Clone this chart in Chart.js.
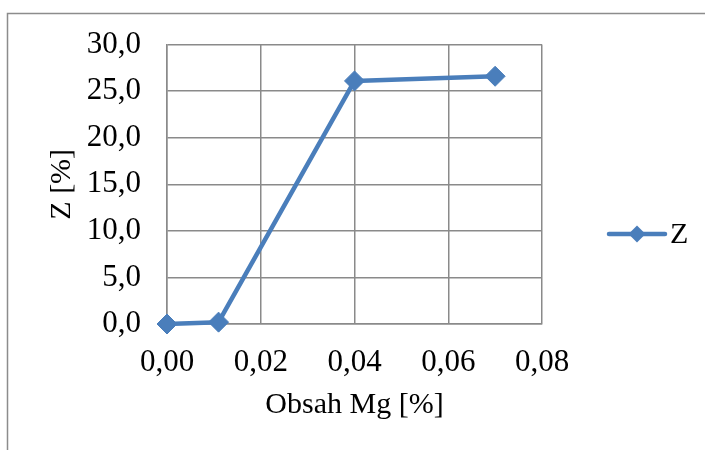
<!DOCTYPE html>
<html>
<head>
<meta charset="utf-8">
<script src="https://cdn.jsdelivr.net/npm/chart.js@4/dist/chart.umd.min.js"></script>
<style>
  html, body { margin: 0; padding: 0; background: #fff; }
  #wrap { width: 705px; height: 450px; position: relative; }
</style>
</head>
<body>
<div id="wrap"><canvas id="c" width="705" height="450"></canvas></div>
<script>
// Magnesium content [%] vs. Z [%]
const mgContent = [0, 0.011, 0.04, 0.07];
const zValues = [0, 0.2, 26.1, 26.6];
const seriesName = 'Z';

const xTickValues = [0, 0.02, 0.04, 0.06, 0.08];
const xTickLabels = ['0,00', '0,02', '0,04', '0,06', '0,08'];
const yTickValues = [0, 5, 10, 15, 20, 25, 30];
const yTickLabels = ['0,0', '5,0', '10,0', '15,0', '20,0', '25,0', '30,0'];

const xTitle = 'Obsah Mg [%]';
const yTitle = 'Z [%]';

const SERIF = "'Liberation Serif', 'Times New Roman', serif";
const LINE_BLUE = '#4a7ebb';
const GRID = '#8a8a8a';

// white page with the outer frame lines
const framePlugin = {
  id: 'frame',
  beforeDraw(chart) {
    const ctx = chart.ctx;
    ctx.save();
    ctx.fillStyle = '#fff';
    ctx.fillRect(0, 0, chart.width, chart.height);
    ctx.strokeStyle = '#8c8c8c';
    ctx.lineWidth = 1.5;
    ctx.beginPath();
    ctx.moveTo(7.5, chart.height);
    ctx.lineTo(7.5, 13.5);
    ctx.lineTo(chart.width, 13.5);
    ctx.stroke();
    ctx.restore();
  }
};

// legend entry: line sample with a diamond marker and the series name
const legendPlugin = {
  id: 'lineLegend',
  afterDraw(chart) {
    const ctx = chart.ctx;
    const ds = chart.data.datasets[0];
    const x0 = chart.chartArea.right + 67;
    const y = 234;
    ctx.save();
    ctx.strokeStyle = ds.borderColor;
    ctx.lineWidth = 4.5;
    ctx.lineCap = 'round';
    ctx.beginPath();
    ctx.moveTo(x0, y);
    ctx.lineTo(x0 + 56, y);
    ctx.stroke();
    const r = 8.5;
    ctx.fillStyle = ds.borderColor;
    ctx.beginPath();
    ctx.moveTo(x0 + 28, y - r);
    ctx.lineTo(x0 + 28 + r, y);
    ctx.lineTo(x0 + 28, y + r);
    ctx.lineTo(x0 + 28 - r, y);
    ctx.closePath();
    ctx.fill();
    ctx.fillStyle = '#000';
    ctx.font = '30px ' + SERIF;
    ctx.textBaseline = 'middle';
    ctx.textAlign = 'left';
    ctx.fillText(ds.label, x0 + 61, y + 1);
    ctx.restore();
  }
};

new Chart(document.getElementById('c'), {
  type: 'line',
  data: {
    datasets: [{
      label: seriesName,
      data: mgContent.map((x, i) => ({ x: x, y: zValues[i] })),
      borderColor: LINE_BLUE,
      backgroundColor: LINE_BLUE,
      borderWidth: 4.5,
      borderJoinStyle: 'round',
      tension: 0,
      pointStyle: 'rectRot',
      pointRadius: 10,
      pointHoverRadius: 10,
      pointBorderWidth: 1,
      pointBorderColor: LINE_BLUE,
      pointBackgroundColor: LINE_BLUE,
      clip: false
    }]
  },
  options: {
    responsive: false,
    animation: false,
    devicePixelRatio: 1,
    layout: { padding: { top: 43, left: 0, right: 163, bottom: 0 } },
    plugins: {
      legend: { display: false },
      tooltip: { enabled: false }
    },
    scales: {
      x: {
        type: 'linear',
        min: 0,
        max: 0.08,
        afterBuildTicks: s => { s.ticks = xTickValues.map(v => ({ value: v })); },
        afterFit: s => { s.height = 126; },
        grid: { color: GRID, lineWidth: 1.5, drawTicks: false },
        border: { color: GRID, width: 1.5 },
        ticks: {
          color: '#000',
          padding: 20,
          maxRotation: 0,
          font: { family: SERIF, size: 31 },
          callback: (v, i) => xTickLabels[i]
        },
        title: {
          display: true,
          text: xTitle,
          color: '#000',
          font: { family: SERIF, size: 30 },
          padding: { top: 0, bottom: 27 }
        }
      },
      y: {
        type: 'linear',
        min: 0,
        max: 30,
        afterBuildTicks: s => { s.ticks = yTickValues.map(v => ({ value: v })); },
        afterFit: s => { s.width = 167; },
        grid: { color: GRID, lineWidth: 1.5, drawTicks: false },
        border: { color: GRID, width: 1.5 },
        ticks: {
          color: '#000',
          padding: 26,
          font: { family: SERIF, size: 31 },
          callback: (v, i) => yTickLabels[i]
        },
        title: {
          display: true,
          text: yTitle,
          color: '#000',
          font: { family: SERIF, size: 30 },
          padding: { top: 44, bottom: 0 }
        }
      }
    }
  },
  plugins: [framePlugin, legendPlugin]
});
</script>
</body>
</html>
